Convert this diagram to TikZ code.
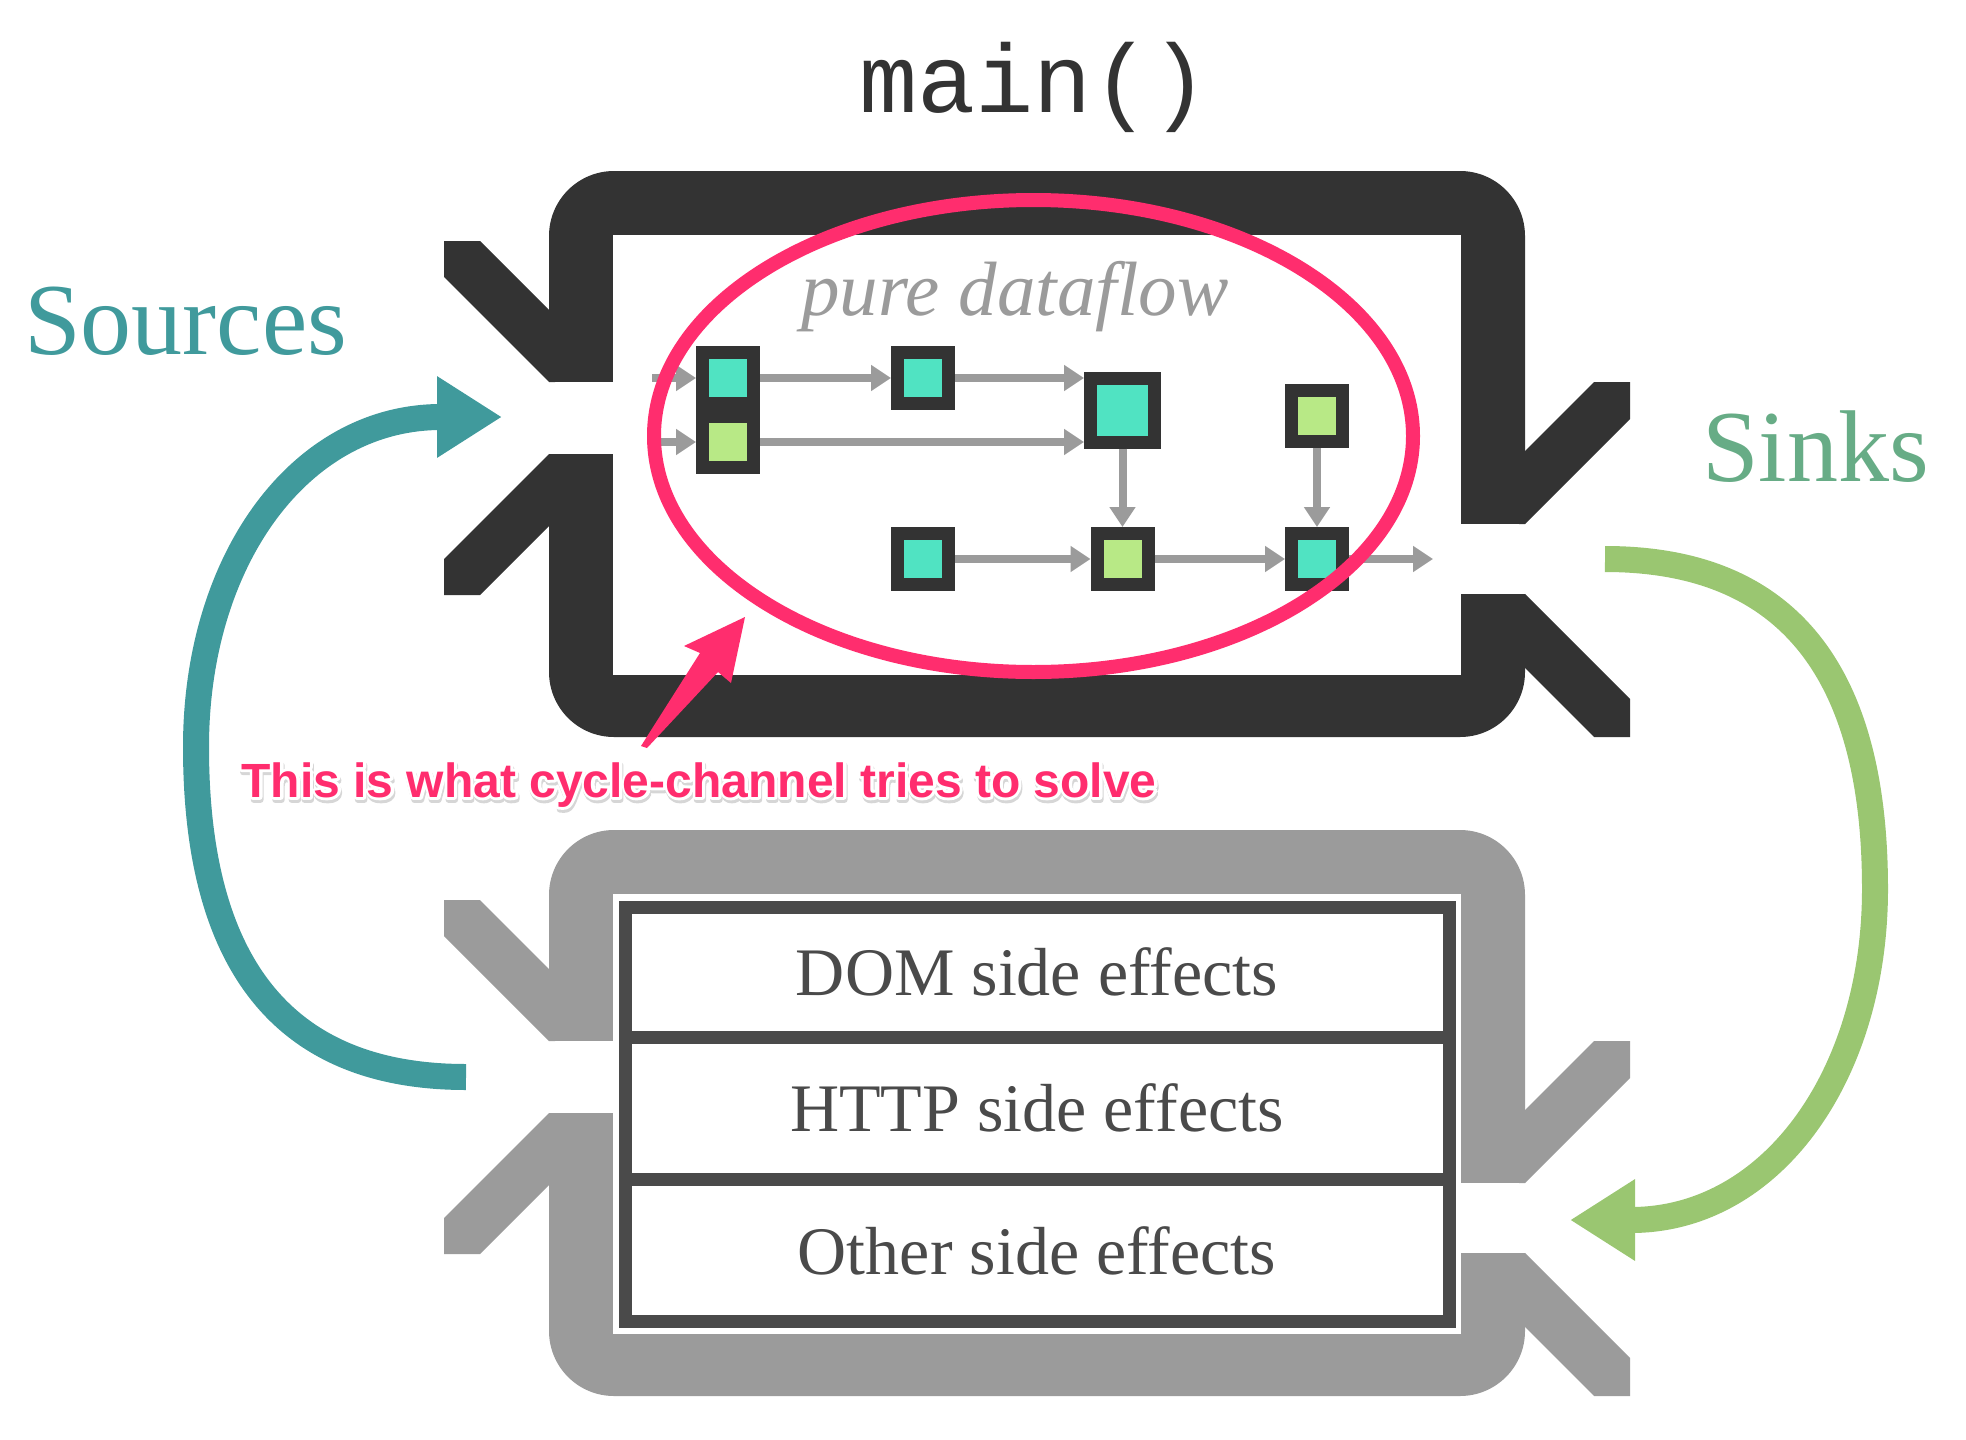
\documentclass[tikz,border=0pt]{standalone}
\usepackage{fontspec}
\setmainfont{Liberation Serif}
\newfontfamily\codefont{Liberation Mono}
\newfontfamily\notefont{Liberation Sans Bold}
\newfontfamily\notehalo{Liberation Sans Bold}[FakeBold=12]
\usetikzlibrary{arrows.meta}

\definecolor{boxdark}{HTML}{333333}
\definecolor{boxgray}{HTML}{9B9B9B}
\definecolor{tablegray}{HTML}{4A4A4A}
\definecolor{streamteal}{HTML}{50E3C2}
\definecolor{streamgreen}{HTML}{B8E986}
\definecolor{hotpink}{HTML}{FF2D6E}
\definecolor{srcteal}{HTML}{409A9C}
\definecolor{sinkgreen}{HTML}{67AC86}
\definecolor{arrowgreen}{HTML}{9AC671}

\newcommand\hintmsg{This is what cycle-channel tries to solve}

\tikzset{
  streambox/.style={draw=boxdark, line width=13pt, minimum size=51pt, inner sep=0pt},
  tealbox/.style={streambox, fill=streamteal},
  greenbox/.style={streambox, fill=streamgreen},
  flow/.style={draw=boxgray, line width=8pt, -{Triangle[length=20pt,width=25pt]}},
  effectrow/.style={draw=tablegray, line width=13pt, minimum width=824pt, inner sep=0pt,
    text=tablegray, font=\fontsize{68}{68}\selectfont},
  bigarrow/.style={line width=26pt, -{Triangle[length=65pt,width=77pt]}},
  sidelabel/.style={font=\fontsize{102}{102}\selectfont, anchor=base west, inner sep=0pt},
  hinttext/.style={font=\notefont\fontsize{48}{48}\selectfont, anchor=base, inner sep=0pt},
  hinthalo/.style={font=\notehalo\fontsize{48}{48}\selectfont, anchor=base, inner sep=0pt, line join=round}
}

\begin{document}
\begin{tikzpicture}[x=1pt, y=-1pt]
    \useasboundingbox (0,0) rectangle (1966,1440);

    % main() box on top, drivers box below
    \foreach \dy/\col in {0/boxdark, 659/boxgray} {
        \begin{scope}[shift={(0,\dy)}]
            \fill[\col, rounded corners=65pt] (549,171) rectangle (1525,737);
            \fill[white] (613,235) rectangle (1461,675);
            \fill[white] (545,382) rectangle (614,454);
            \fill[white] (1460,524) rectangle (1529,594);
            \fill[\col] (444,241) -- (480,241) -- (555,316) -- (555,382) -- (549,382) -- (444,277) -- cycle;
            \fill[\col] (444,595) -- (480,595) -- (555,520) -- (555,454) -- (549,454) -- (444,559) -- cycle;
            \fill[\col] (1630,382) -- (1594,382) -- (1519,457) -- (1519,524) -- (1525,524) -- (1630,419) -- cycle;
            \fill[\col] (1630,737) -- (1594,737) -- (1519,662) -- (1519,594) -- (1525,594) -- (1630,699) -- cycle;
        \end{scope}
    }

    \node[text=boxdark, font=\codefont\fontsize{97}{97}\selectfont, anchor=base] (title) at (1034,112) {main()};
    \node[text=boxgray, font=\itshape\fontsize{77}{77}\selectfont, anchor=base] (pure) at (1015,315) {pure dataflow};

    \node[sidelabel, text=srcteal] (sources) at (24,354) {Sources};
    \node[sidelabel, text=sinkgreen] (sinks) at (1702,481.5) {Sinks};

    % streams
    \node[tealbox] (a) at (728,378) {};
    \node[greenbox] (b) at (728,442) {};
    \node[tealbox] (c) at (923,378) {};
    \node[tealbox, minimum size=64pt] (d) at (1122.5,410) {};
    \node[greenbox] (e) at (1317,416) {};
    \node[tealbox] (f) at (923,559) {};
    \node[greenbox] (g) at (1122.5,559) {};
    \node[tealbox] (h) at (1317,559) {};
    \coordinate (ina) at (652,378);
    \coordinate (inb) at (652,442);
    \coordinate (out) at (1433,559);

    \draw[flow] (ina) -- (a);
    \draw[flow] (inb) -- (b);
    \draw[flow] (a) -- (c);
    \draw[flow] (c) -- (c -| d.west);
    \draw[flow] (b) -- (b -| d.west);
    \draw[flow] (d) -- (g);
    \draw[flow] (e) -- (h);
    \draw[flow] (f) -- (g);
    \draw[flow] (g) -- (h);
    \draw[flow] (h) -- (out);

    % side effects
    \node[effectrow, minimum height=129.5pt] (dom) at (1037,972.25) {DOM side effects};
    \node[effectrow, minimum height=142.5pt] (http) at (1037,1108.25) {HTTP side effects};
    \node[effectrow, minimum height=142pt] (other) at (1037,1250.5) {Other side effects};

    % cycle
    \coordinate (srcout) at (466,1077);
    \coordinate (srcin) at (502,417);
    \coordinate (sinkout) at (1605,559);
    \coordinate (sinkin) at (1570,1220);
    \draw[bigarrow, srcteal] (srcout) .. controls (280,1077) and (196,960) .. (196,747)
        .. controls (196,560) and (300,417) .. (srcin);
    \draw[bigarrow, arrowgreen] (sinkout) .. controls (1791,559) and (1875,676) .. (1875,889)
        .. controls (1875,1076) and (1771,1220) .. (sinkin);

    % highlight
    \draw[hotpink, line width=14pt] (1033.5,436) ellipse [x radius=379.5pt, y radius=236pt];
    \coordinate (hinttail) at (641,746);
    \coordinate (hinttip) at (745,617);
    \fill[hotpink, line join=round] (hinttail) -- (700,653) -- (684,646) -- (hinttip)
        -- (731,683) -- (718,672) -- (647,748) -- cycle;

    \node[hinthalo, text=black!16] at (700,800) {\hintmsg};
    \node[hinthalo, text=white] at (699,797) {\hintmsg};
    \node[hinttext, text=hotpink] (hint) at (699,797) {\hintmsg};
\end{tikzpicture}
\end{document}
